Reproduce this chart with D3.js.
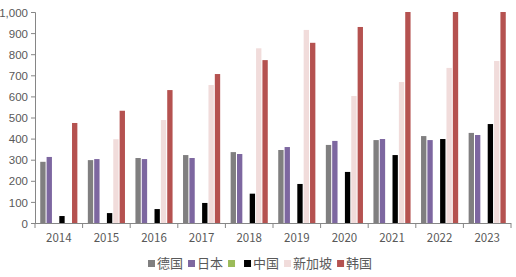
<!DOCTYPE html>
<html>
<head>
<meta charset="utf-8">
<script src="https://cdn.jsdelivr.net/npm/d3@7"></script>
<style>
  body { margin: 0; background: #fff; }
  svg { display: block; font-family: "Noto Sans CJK SC", "Noto Sans", sans-serif; }
  .axis text { fill: #595959; font-size: 11.5px; }
  .axis line, .axis path { stroke: #868686; }
</style>
</head>
<body>
<svg id="chart"></svg>
<script>
const years = ["2014", "2015", "2016", "2017", "2018", "2019", "2020", "2021", "2022", "2023"];
const seriesNames = ["德国", "日本", "", "中国", "新加坡", "韩国"];
const germany   = [290, 298, 308, 322, 336, 346, 370, 393, 412, 427];
const japan     = [313, 303, 303, 308, 327, 360, 389, 398, 393, 417];
const other     = [0, 0, 0, 0, 0, 0, 0, 0, 0, 0];
const china     = [33, 47, 66, 95, 139, 185, 242, 322, 398, 469];
const singapore = [0, 397, 488, 654, 828, 915, 602, 668, 735, 768];
const korea     = [474, 532, 630, 706, 772, 854, 929, 1000, 1000, 1000];
const yTicks = [0, 100, 200, 300, 400, 500, 600, 700, 800, 900, 1000];
const colors = ["#807f80", "#7d67a0", "#9bbb59", "#000000", "#f1dcdb", "#b55250"];

const seriesValues = [germany, japan, other, china, singapore, korea];
const rows = years.map((y, i) => ({year: y, values: seriesValues.map(s => s[i])}));

const width = 516, height = 277;
const margin = {top: 12, right: 5, bottom: 54, left: 35};
const innerW = width - margin.left - margin.right;
const innerH = height - margin.top - margin.bottom;

const svg = d3.select("#chart").attr("width", width).attr("height", height);
const g = svg.append("g").attr("transform", `translate(${margin.left},${margin.top})`);

const x0 = d3.scaleBand().domain(years).range([0, innerW]).paddingInner(0.22).paddingOuter(0.11);
const x1 = d3.scaleBand().domain(d3.range(seriesNames.length)).range([0, x0.bandwidth()]).paddingInner(0.16);
const y = d3.scaleLinear().domain([0, 1000]).range([innerH, 0]);

// bars
g.selectAll("g.group").data(rows).join("g")
  .attr("class", "group")
  .attr("transform", d => `translate(${x0(d.year)},0)`)
  .selectAll("rect").data(d => d.values.map((v, k) => ({k, v}))).join("rect")
  .attr("x", d => x1(d.k))
  .attr("width", x1.bandwidth())
  .attr("y", d => y(d.v))
  .attr("height", d => innerH - y(d.v))
  .attr("fill", d => colors[d.k]);

// y axis
g.append("g").attr("class", "axis")
  .call(d3.axisLeft(y).tickValues(yTicks).tickSize(4).tickPadding(3))
  .selectAll("text").attr("dy", "0.36em");

// x axis, ticks sit on the band boundaries
const xAxis = g.append("g").attr("class", "axis").attr("transform", `translate(0,${innerH})`);
xAxis.append("line").attr("x1", 0).attr("x2", innerW).attr("y1", 0.5).attr("y2", 0.5);
const bounds = d3.range(years.length + 1).map(i => i * innerW / years.length);
xAxis.selectAll("line.tk").data(bounds).join("line")
  .attr("class", "tk")
  .attr("x1", d => d).attr("x2", d => d)
  .attr("y1", 0).attr("y2", 5);
xAxis.selectAll("text").data(years).join("text")
  .attr("x", (d, i) => (bounds[i] + bounds[i + 1]) / 2)
  .attr("y", 19)
  .attr("text-anchor", "middle")
  .text(d => d);

// legend
const legend = svg.append("g").attr("transform", "translate(148,264)");
let lx = 0;
seriesNames.forEach((name, k) => {
  legend.append("rect").attr("x", lx).attr("y", -4).attr("width", 7).attr("height", 7).attr("fill", colors[k]);
  lx += 9;
  if (name) {
    const t = legend.append("text").attr("x", lx).attr("y", 4)
      .attr("font-size", 13).attr("fill", "#595959").text(name);
    lx += t.node().getComputedTextLength() + 5;
  } else {
    lx += 7;
  }
});
</script>
</body>
</html>
